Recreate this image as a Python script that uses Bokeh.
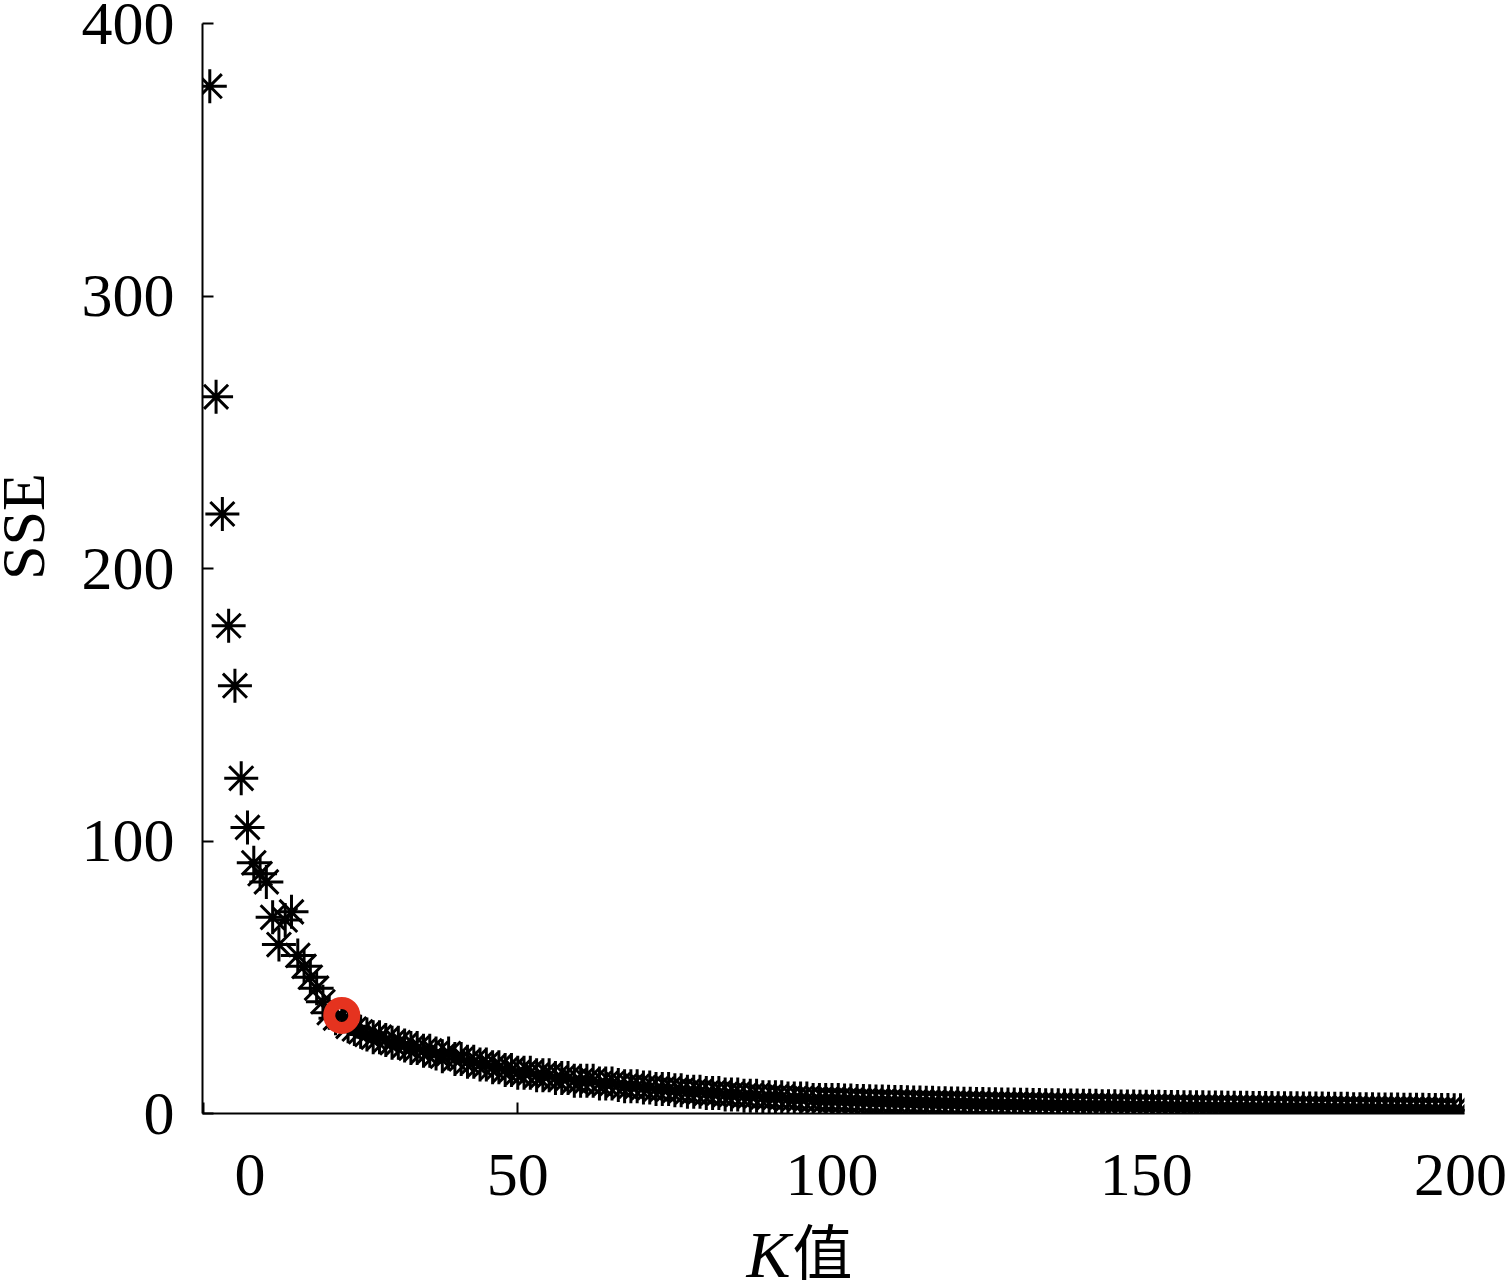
import numpy as np
from bokeh.plotting import figure
from bokeh.models import Range1d, Label, FixedTicker
from bokeh.embed import file_html
from bokeh.resources import INLINE

# ---- data ----
k_values = list(range(1, 201))
sse_values = [
    377, 263, 220, 179, 157, 123, 105, 92, 88, 85,
    72, 62, 71, 74, 58, 54, 50, 46, 41, 37,
    35, 36, 32, 31, 30, 29, 28, 28, 27, 26,
    26, 25, 24, 24, 23, 23, 22, 21, 22, 20,
    20, 19, 19, 18, 18, 17, 17, 16, 16, 15,
    15, 15, 14, 14, 14, 13, 13, 13, 12, 12,
    12, 12, 11, 11, 11, 10.5, 10, 10, 10, 9.5,
    9.5, 9, 9, 9, 8.5, 8.5, 8, 8, 8, 7.5,
    7.5, 7.5, 7, 7, 7, 6.5, 6.5, 6.5, 6, 6,
    6, 6, 5.5, 5.5, 5.5, 5.5, 5, 5, 5, 5,
    5, 4.8, 4.8, 4.6, 4.6, 4.5, 4.4, 4.4, 4.3, 4.2,
    4.2, 4.1, 4.0, 4.0, 3.9, 3.9, 3.8, 3.8, 3.7, 3.7,
    3.6, 3.6, 3.5, 3.5, 3.4, 3.4, 3.3, 3.3, 3.3, 3.2,
    3.2, 3.1, 3.1, 3.0, 3.0, 3.0, 2.9, 2.9, 2.9, 2.8,
    2.8, 2.8, 2.7, 2.7, 2.7, 2.6, 2.6, 2.6, 2.5, 2.5,
    2.5, 2.5, 2.4, 2.4, 2.4, 2.3, 2.3, 2.3, 2.3, 2.2,
    2.2, 2.2, 2.1, 2.1, 2.1, 2.1, 2.0, 2.0, 2.0, 2.0,
    1.9, 1.9, 1.9, 1.9, 1.8, 1.8, 1.8, 1.8, 1.7, 1.7,
    1.7, 1.7, 1.6, 1.6, 1.6, 1.6, 1.5, 1.5, 1.5, 1.5,
    1.4, 1.4, 1.4, 1.4, 1.3, 1.3, 1.3, 1.3, 1.2, 1.2,
]
best_k = [22]
best_sse = [36]
x_ticks = [0, 50, 100, 150, 200]
y_ticks = [0, 100, 200, 300, 400]
x_label_italic = "K"
x_label_rest = "值"
y_label = "SSE"

SERIF = "Liberation Serif"

p = figure(width=1512, height=1286, output_backend="svg", toolbar_location=None,
           x_range=Range1d(-0.16, 200.64), y_range=Range1d(0, 400),
           min_border_left=202, min_border_right=48, min_border_top=23,
           min_border_bottom=173)
p.grid.visible = False
p.outline_line_color = None
p.background_fill_color = "white"
p.border_fill_color = "white"

p.xaxis.ticker = FixedTicker(ticks=x_ticks)
p.yaxis.ticker = FixedTicker(ticks=y_ticks)
for ax in (p.xaxis, p.yaxis):
    ax.major_tick_in = 11
    ax.major_tick_out = 0
    ax.minor_tick_in = 0
    ax.minor_tick_out = 0
    ax.axis_line_width = 2
    ax.axis_line_color = "black"
    ax.major_tick_line_width = 2
    ax.major_tick_line_color = "black"
    ax.major_label_text_font = SERIF
    ax.major_label_text_font_size = "62px"
    ax.major_label_text_color = "black"
p.xaxis.major_label_standoff = 26
p.yaxis.major_label_standoff = 28
# the "0" of the x axis sits to the right of the corner in the reference
p.xaxis.major_label_overrides = {0: "\u00a0" * 6 + str(x_ticks[0])}

p.scatter(k_values, sse_values, marker="asterisk", size=34,
          line_color="black", line_width=3)
p.scatter(best_k, best_sse, marker="circle", size=25, fill_color=None,
          line_color="#e5331f", line_width=12)

# texts outside the frame go into side panels (not clipped), data coordinates
p.add_layout(Label(x=93.7, y=-51.8, text=x_label_rest, text_align="left",
                   text_baseline="alphabetic",
                   text_font="Liberation Serif, 'Noto Sans CJK SC'",
                   text_font_size="60px", text_color="black"), "below")
p.add_layout(Label(x=93.4, y=-51.8, text=x_label_italic, text_align="right",
                   text_baseline="alphabetic", text_font=SERIF,
                   text_font_style="italic", text_font_size="66px",
                   text_color="black"), "right")
p.add_layout(Label(x=-28.8, y=215.4, text=y_label, angle=np.pi / 2,
                   text_align="center", text_baseline="alphabetic",
                   text_font=SERIF, text_font_size="62px",
                   text_color="black"), "left")

open("out.html", "w").write(file_html(p, INLINE))
